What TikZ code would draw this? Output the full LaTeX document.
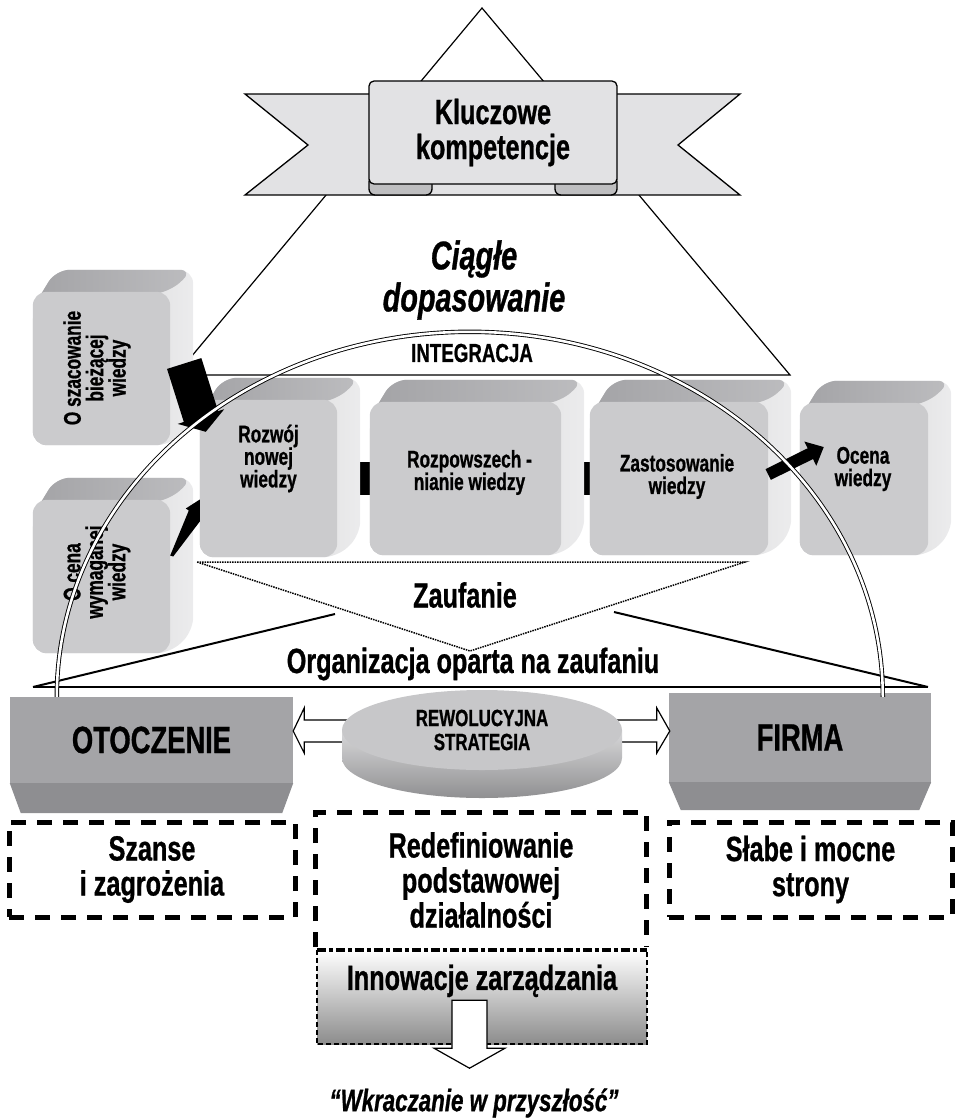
\documentclass[tikz,border=0pt]{standalone}
\usepackage{fontspec}
\setmainfont{Liberation Sans}[FakeStretch=0.72, BoldFeatures={FakeBold=0.8}, BoldItalicFeatures={FakeBold=0.8}]
\usetikzlibrary{calc, arrows.meta, positioning, backgrounds}

\definecolor{FrontGray}{HTML}{CBCBCD}
\definecolor{TopGray}{HTML}{A3A3A6}
\definecolor{SideGray}{HTML}{DCDCDE}
\definecolor{RibbonGray}{HTML}{E2E2E4}
\definecolor{CurlGray}{HTML}{BEBEC0}
\definecolor{BoxGray}{HTML}{A4A4A7}
\definecolor{BoxDark}{HTML}{8E8E91}
\definecolor{DiscTop}{HTML}{C7C7C9}
\definecolor{DiscSide}{HTML}{A9A9AB}

\tikzset{
  biglabel/.style={font=\fontsize{35}{35}\selectfont\bfseries, align=center, inner sep=0pt},
  cubelabel/.style={font=\fontsize{24}{22.5}\selectfont\bfseries, align=center, inner sep=0pt},
  ciaglelabel/.style={font=\fontsize{40}{42}\selectfont\bfseries\itshape, align=center, inner sep=0pt},
  capslabel/.style={font=\fontsize{23.5}{24}\selectfont\bfseries, align=center, inner sep=0pt},
  quotelabel/.style={font=\fontsize{31}{32}\selectfont\bfseries\itshape, inner sep=0pt},
  thinline/.style={draw=black, line width=1.2pt},
  trline/.style={draw=black, line width=2pt},
  dotline/.style={draw=black, line width=1.5pt, densely dotted},
  arcline/.style={draw=black, line width=0.9pt, double=white, double distance=2.6pt},
  ribbon/.style={draw=black, line width=1.3pt, fill=RibbonGray, line join=miter},
  panel/.style={ribbon, rounded corners=5pt, biglabel},
  curl/.style={draw=black, line width=1.3pt, fill=CurlGray},
  blackbar/.style={draw=black, line width=33pt},
  fatarrow/.style={draw=black, line width=36pt, -{Triangle[width=48pt, length=16pt]}},
  slimarrow/.style={draw=black, line width=12pt, -{Triangle[width=26pt, length=15pt]}},
  hollow/.style={draw=black, line width=1.2pt, fill=white, line join=miter},
  graybox/.style={fill=BoxGray, inner sep=0pt, font=\fontsize{38}{38}\selectfont\bfseries},
  dashbox/.style={draw=black, line width=5pt, dash pattern=on 15pt off 11pt, biglabel},
  thickdash/.style={draw=black, line width=5pt, dash pattern=on 15pt off 11pt},
  finedash/.style={draw=black, line width=1.5pt, dash pattern=on 5pt off 3pt},
  dashdot/.style={draw=black, line width=4pt, dash pattern=on 9pt off 3pt on 4pt off 3pt}
}

% kostka: name, x, y, width, height (front face)
\newcommand{\kostka}[5]{%
  \node[minimum width=#4pt, minimum height=#5pt, inner sep=0pt] (#1) at (#2,#3) {};
  \shade[left color=SideGray!92!black, right color=SideGray!55!white, rounded corners=14pt]
    ($(#1.north west)+(0,16)$) -- ($(#1.north west)+(23,-22)$) -- ($(#1.north east)+(23,-22)$)
    -- ($(#1.south east)+(23,-22)$) -- (#1.south east) -- (#1.south west) -- cycle;
  \shade[left color=TopGray, right color=TopGray!55!SideGray, rounded corners=14pt]
    ($(#1.north west)+(0,16)$) -- ($(#1.north west)+(23,-22)$) -- ($(#1.north east)+(23,-22)$)
    -- (#1.north east) -- cycle;
  \fill[FrontGray, rounded corners=14pt] (#1.north west) rectangle (#1.south east);
}

\begin{document}
\begin{tikzpicture}[x=1pt, y=-1pt]
\useasboundingbox (0,0) rectangle (954,1119);

% piramida
\draw[thinline, fill=white] (482,8) -- (176,375) -- (790,375) -- cycle;

% wstega
\draw[ribbon] (245,94) -- (740,94) -- (678,145) -- (740,195) -- (245,195) -- (308,145) -- cycle;
\draw[curl, rounded corners=6pt] (369,176) rectangle (432,195);
\draw[curl, rounded corners=6pt] (555,176) rectangle (617,195);
\node[panel, minimum width=248pt, minimum height=103pt] (kluczowe) at (493,132.5) {Kluczowe\\kompetencje};

\node[ciaglelabel] (ciagle) at (474,280) {Ciągłe\\dopasowanie};

% organizacja oparta na zaufaniu
\draw[trline] (33,687) -- (928,687);
\draw[trline] (33,687) -- (335,614);
\draw[trline] (614,612) -- (928,687);
\draw[dotline] (197,562) -- (745,562) -- (470,651) -- cycle;
\node[biglabel] (zaufanie) at (465,595) {Zaufanie};
\node[biglabel] (organizacja) at (473,664) {Organizacja oparta na zaufaniu};

% kostki
\kostka{szac}{101.5}{368.5}{137}{153}
\kostka{cena}{101.5}{576.5}{137}{153}
\kostka{rozwoj}{268.5}{478.5}{137}{157}
\kostka{rozpow}{465.5}{478.5}{191}{153}
\kostka{zastos}{679}{478.5}{178}{153}
\kostka{ocena}{864}{479}{128}{152}

\begin{scope}[on background layer]
  \draw[blackbar] (rozwoj) -- (rozpow);
  \draw[blackbar] (rozpow) -- (zastos);
\end{scope}

\node[cubelabel, rotate=90] (szac-txt) at (97,368) {O szacowanie\\bieżącej\\wiedzy};
\node[cubelabel, rotate=90] (cena-txt) at (97,572) {O cena\\wymaganej\\wiedzy};
\node[cubelabel] (rozwoj-txt) at ($(rozwoj)+(0,-20)$) {Rozwój\\nowej\\wiedzy};
\node[cubelabel] (rozpow-txt) at ($(rozpow)+(4,-6)$) {Rozpowszech -\\nianie wiedzy};
\node[cubelabel] (zastos-txt) at ($(zastos)+(-2,-2)$) {Zastosowanie\\wiedzy};
\node[cubelabel] (ocena-txt) at ($(ocena)+(-1,-10)$) {Ocena\\wiedzy};

% czarne strzalki
\draw[fatarrow] ($(szac.east)+(14,-5)$) -- ($(rozwoj.north west)+(6,32)$);
\fill[black] ($(rozwoj.west)+(0,21)$) -- ++(0,22) -- ($(cena.east)+(3,-20)$) -- ($(cena.east)+(0,-21)$)
  -- ($(rozwoj.west)+(-11,32)$) -- ($(rozwoj.west)+(-14,30)$) -- cycle;
\draw[slimarrow] ($(zastos.east)+(0,-4)$) -- ($(ocena.west)+(24,-32)$);

% otoczenie i firma
\node[graybox, minimum width=283pt, minimum height=86pt] (otoczenie) at (151.5,740) {OTOCZENIE};
\fill[BoxDark] (otoczenie.south west) -- (otoczenie.south east) -- ++(-11,30) -- ($(otoczenie.south west)+(11,30)$) -- cycle;
\node[graybox, minimum width=262pt, minimum height=89pt] (firma) at (800,737.5) {FIRMA};
\fill[BoxDark] (firma.south west) -- (firma.south east) -- ++(-12,28) -- ($(firma.south west)+(12,28)$) -- cycle;

\draw[hollow] ($(otoczenie.east)+(0,-9)$) -- ++(11,-23) -- ++(0,12) -- ++(50,0) -- ++(0,22) -- ++(-50,0) -- ++(0,11) -- cycle;
\draw[hollow] ($(firma.west)+(1,-6.5)$) -- ++(-13,-23) -- ++(0,12) -- ++(-50,0) -- ++(0,22) -- ++(50,0) -- ++(0,11) -- cycle;

% rewolucyjna strategia
\shade[top color=DiscTop!70!white, bottom color=DiscSide!85!black]
  (342,730) -- (342,758) arc[start angle=180, end angle=360, x radius=140pt, y radius=40pt] -- (622,730) -- cycle;
\fill[DiscTop] (482,730) ellipse[x radius=140pt, y radius=40pt];
\node[capslabel] (strategia) at (482,730) {REWOLUCYJNA\\STRATEGIA};

% integracja
\draw[arcline] ($(otoczenie.north west)+(47,0)$) arc[start angle=180, end angle=0, x radius=413pt, y radius=365pt];
\node[font=\fontsize{26}{26}\selectfont\bfseries, inner sep=0pt] (integracja) at (472,353) {INTEGRACJA};

% dolne ramki
\node[dashbox, minimum width=286pt, minimum height=95pt] (szanse) at (152,869.5) {Szanse\\i zagrożenia};
\node[dashbox, minimum width=283pt, minimum height=95pt] (slabe) at (810.5,869.5) {Słabe i mocne\\strony};
\node[biglabel, minimum width=330pt, minimum height=134pt] (redef) at (481,880) {Redefiniowanie\\podstawowej\\działalności};
\draw[thickdash] (redef.south west) -- (redef.north west) -- (redef.north east) -- (redef.south east);

\shade[top color=white, middle color=black!6, bottom color=black!45] (317,950) rectangle (647,1044);
\node[minimum width=330pt, minimum height=94pt, inner sep=0pt] (innow) at (482,997) {};
\draw[finedash] (innow.north west) -- (innow.south west) -- (innow.south east) -- (innow.north east);
\draw[dashdot] (innow.north west) -- (innow.north east);
\node[biglabel] (innow-txt) at ($(innow.north)+(0,31)$) {Innowacje zarządzania};

\draw[hollow] ($(innow.south)+(-30,-44)$) -- ++(35,0) -- ++(0,48) -- ++(18,0) -- ++(-35.5,20) -- ++(-35.5,-20) -- ++(18,0) -- cycle;
\node[quotelabel] (wkracz) at (474,1103) {“Wkraczanie w przyszłość”};
\end{tikzpicture}
\end{document}
